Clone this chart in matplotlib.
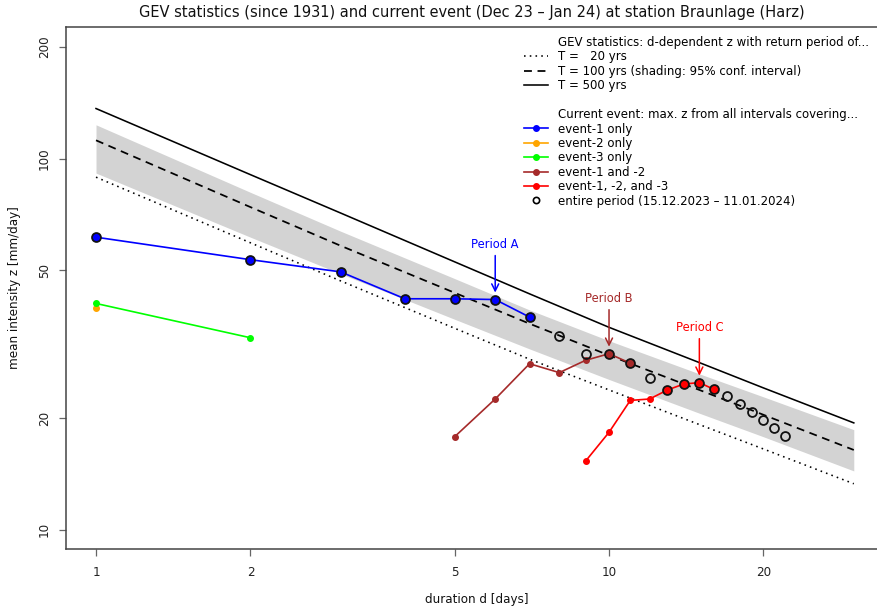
import matplotlib
matplotlib.use("Agg")
import matplotlib.pyplot as plt
from matplotlib.lines import Line2D
import numpy as np

# ---------------- data ----------------
# GEV d-dependent return levels (mean intensity, mm/day)
d_gev = [1, 2, 3, 5, 7, 10, 15, 20, 30]
z_T20 = [89.1, 59.3, 46.8, 34.9, 28.8, 23.8, 19.2, 16.5, 13.3]
z_T100 = [112.0, 74.0, 58.2, 43.5, 35.9, 29.5, 23.8, 20.4, 16.4]
z_T100_lo = [91.4, 61.4, 48.9, 36.9, 30.7, 25.4, 20.6, 17.8, 14.4]
z_T100_hi = [123.3, 81.1, 63.7, 47.5, 39.1, 32.3, 26.3, 22.8, 18.6]
z_T500 = [136.4, 90.5, 71.3, 52.7, 43.2, 35.1, 28.2, 24.1, 19.4]

# current event
d_ev1 = [1, 2, 3, 4, 5, 6, 7]
z_ev1 = [61.4, 53.4, 49.5, 41.9, 41.9, 41.7, 37.4]
d_ev2 = [1]
z_ev2 = [39.6]
d_ev3 = [1, 2]
z_ev3 = [40.7, 32.9]
d_ev12 = [5, 6, 7, 8, 9, 10, 11]
z_ev12 = [17.8, 22.5, 28.0, 26.5, 28.6, 29.8, 28.1]
d_ev123 = [9, 10, 11, 12, 13, 14, 15, 16]
z_ev123 = [15.3, 18.3, 22.3, 22.5, 23.8, 24.7, 24.9, 23.9]
d_all = list(range(1, 23))
z_all = [61.4, 53.4, 49.5, 41.9, 41.9, 41.7, 37.4, 33.3, 29.7, 29.8, 28.1,
         25.7, 23.8, 24.7, 24.9, 23.9, 22.9, 21.8, 20.7, 19.7, 18.8, 17.9]

period_labels = ["Period A", "Period B", "Period C"]
period_d = [6, 10, 15]

x_ticks = [1, 2, 5, 10, 20]
y_ticks = [10, 20, 50, 100, 200]

# ---------------- style ----------------
C_EV1 = "#0000FF"
C_EV2 = "#FFA500"
C_EV3 = "#00FF00"
C_EV12 = "#A52A2A"
C_EV123 = "#FF0000"
period_colors = [C_EV1, C_EV12, C_EV123]

W, H = 877, 610
fig = plt.figure(figsize=(W / 100, H / 100), dpi=100)
L, R, T, B = 66, 884, 27, 549
ax = fig.add_axes([L / W, 1 - B / H, (R - L) / W, (B - T) / H])
ax.set_xscale("log")
ax.set_yscale("log")
ax.set_xlim(10 ** -0.0585, 10 ** 1.536)
ax.set_ylim(10 ** 0.948, 10 ** 2.3545)

lw = 1.15
ax.fill_between(d_gev, z_T100_lo, z_T100_hi, color="#D3D3D3", lw=0, zorder=1)
ax.plot(d_gev, z_T20, color="black", lw=lw, linestyle=(0, (1, 2.6)), zorder=2)
ax.plot(d_gev, z_T100, color="black", lw=lw * 1.1, linestyle=(0, (4.5, 3.2)), zorder=2)
ax.plot(d_gev, z_T500, color="black", lw=lw, zorder=2)

small = 4.0
series = [(d_ev1, z_ev1, C_EV1), (d_ev2, z_ev2, C_EV2), (d_ev3, z_ev3, C_EV3),
          (d_ev12, z_ev12, C_EV12), (d_ev123, z_ev123, C_EV123)]
for dd, zz, c in series:
    ax.plot(dd, zz, color=c, lw=1.2, marker="o", ms=small, mec=c, mfc=c, zorder=3)

# entire period: open circles, filled with event colour where they coincide
for dv, zv in zip(d_all, z_all):
    fc = "none"
    for dd, zz, c in series:
        for d2, z2 in zip(dd, zz):
            if d2 == dv and np.isclose(z2, zv):
                fc = c
    ax.plot([dv], [zv], marker="o", ms=6.4, mfc=fc, mec="#111111", mew=1.3,
            linestyle="none", zorder=4)

# period annotations
px = 0.72
for lab, pdv, c in zip(period_labels, period_d, period_colors):
    zv = z_all[d_all.index(pdv)]
    ax.annotate("", xy=(pdv, zv), xytext=(0, 44 * px), textcoords="offset points",
                arrowprops=dict(arrowstyle="->,head_length=0.5,head_width=0.25",
                                color=c, lw=1.1, shrinkA=0, shrinkB=7 * px),
                zorder=5)
    ax.annotate(lab, xy=(pdv, zv), xytext=(0, 55 * px), textcoords="offset points",
                ha="center", va="center", color=c, fontsize=8.3, zorder=5)

# axes cosmetics
for s in ax.spines.values():
    s.set_color("#444444")
    s.set_linewidth(1.1)
ax.set_xticks(x_ticks)
ax.set_xticklabels([str(v) for v in x_ticks])
ax.set_yticks(y_ticks)
ax.set_yticklabels([str(v) for v in y_ticks], rotation=90, va="center")
ax.minorticks_off()
ax.tick_params(axis="both", direction="out", length=5, width=0.9, color="#666666",
               labelsize=9.5, labelcolor="#222222")
ax.tick_params(axis="x", pad=7)
ax.tick_params(axis="y", pad=6)
for lbl in ax.get_xticklabels() + ax.get_yticklabels():
    lbl.set_fontstretch("condensed")

fig.text(472 / W, 1 - 13 / H,
         "GEV statistics (since 1931) and current event (Dec 23 \u2013 Jan 24) at station Braunlage (Harz)",
         ha="center", va="center", fontsize=11.7, fontstretch="condensed", color="#111111")
fig.text(477 / W, 1 - 600 / H, "duration d [days]", ha="center", va="center",
         fontsize=9.5, fontstretch="condensed", color="#111111")
fig.text(15 / W, 1 - 288 / H, "mean intensity z [mm/day]", ha="center", va="center",
         rotation=90, fontsize=9.5, fontstretch="condensed", color="#111111")

# legend
blank = Line2D([], [], linestyle="none")
handles = [
    blank,
    Line2D([], [], color="black", lw=lw, linestyle=(0, (1, 2.6))),
    Line2D([], [], color="black", lw=lw * 1.1, linestyle=(0, (4.5, 3.2))),
    Line2D([], [], color="black", lw=lw),
    blank,
    blank,
    Line2D([], [], color=C_EV1, lw=1.2, marker="o", ms=small),
    Line2D([], [], color=C_EV2, lw=1.2, marker="o", ms=small),
    Line2D([], [], color=C_EV3, lw=1.2, marker="o", ms=small),
    Line2D([], [], color=C_EV12, lw=1.2, marker="o", ms=small),
    Line2D([], [], color=C_EV123, lw=1.2, marker="o", ms=small),
    Line2D([], [], linestyle="none", marker="o", ms=4.5, mfc="none", mec="black", mew=1.2),
]
labels = [
    "GEV statistics: d-dependent z with return period of...",
    "T =   20 yrs",
    "T = 100 yrs (shading: 95% conf. interval)",
    "T = 500 yrs",
    " ",
    "Current event: max. z from all intervals covering...",
    "event-1 only",
    "event-2 only",
    "event-3 only",
    "event-1 and -2",
    "event-1, -2, and -3",
    "entire period (15.12.2023 \u2013 11.01.2024)",
]
fs_leg = 8.5
fig.legend(handles, labels, loc="upper left", bbox_to_anchor=(524 / W, 1 - 36 / H),
           frameon=False, fontsize=fs_leg, borderpad=0, borderaxespad=0,
           handlelength=24 / (fs_leg / 0.72), handletextpad=10 / (fs_leg / 0.72),
           labelspacing=0.12, numpoints=1)

fig.savefig("out.png", dpi=100)
